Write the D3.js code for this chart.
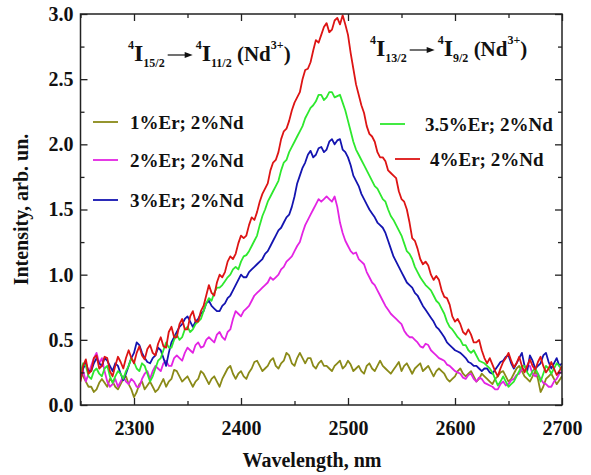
<!DOCTYPE html>
<html>
<head>
<meta charset="utf-8">
<script src="https://cdn.jsdelivr.net/npm/d3@7"></script>
<style>
  body { margin: 0; background: #fff; }
  svg { display: block; }
  text { font-family: "Liberation Serif", "Times New Roman", serif; font-weight: bold; fill: #111; }
</style>
</head>
<body>
<svg id="chart" width="591" height="475"></svg>
<script>
// Emission spectra of Er/Nd co-doped samples, sampled every 2.5 nm from 2250 nm
const wavelengthStart = 2250;
const wavelengthStep = 2.5;

const er1 = [
  0.26,0.22,0.18,0.14,0.14,0.10,0.12,0.17,0.20,0.17,
  0.14,0.20,0.18,0.14,0.12,0.16,0.20,0.22,0.16,0.12,
  0.06,0.10,0.16,0.18,0.12,0.15,0.18,0.14,0.10,0.12,
  0.16,0.20,0.14,0.18,0.20,0.27,0.26,0.22,0.18,0.20,
  0.22,0.18,0.14,0.18,0.20,0.26,0.24,0.20,0.16,0.20,
  0.22,0.18,0.14,0.20,0.24,0.28,0.30,0.24,0.20,0.24,
  0.26,0.22,0.20,0.25,0.28,0.33,0.34,0.30,0.26,0.28,
  0.30,0.34,0.36,0.30,0.28,0.32,0.34,0.40,0.38,0.32,
  0.30,0.36,0.40,0.36,0.32,0.36,0.36,0.30,0.28,0.32,
  0.34,0.30,0.30,0.28,0.26,0.30,0.32,0.34,0.28,0.30,
  0.34,0.31,0.26,0.28,0.30,0.26,0.24,0.30,0.32,0.28,
  0.26,0.30,0.34,0.30,0.28,0.26,0.24,0.27,0.30,0.33,
  0.26,0.30,0.32,0.28,0.24,0.28,0.30,0.32,0.26,0.28,
  0.30,0.26,0.22,0.26,0.28,0.26,0.24,0.20,0.18,0.20,
  0.22,0.26,0.28,0.24,0.22,0.24,0.26,0.22,0.18,0.20,
  0.24,0.22,0.20,0.18,0.16,0.20,0.22,0.25,0.26,0.22,
  0.18,0.20,0.24,0.28,0.30,0.26,0.22,0.20,0.18,0.22,
  0.26,0.20,0.10,0.14,0.20,0.22,0.24,0.20,0.16,0.19,
  0.22];

const er2 = [
  0.22,0.26,0.18,0.24,0.30,0.36,0.40,0.32,0.36,0.26,
  0.18,0.14,0.16,0.20,0.14,0.18,0.22,0.18,0.16,0.20,
  0.18,0.14,0.14,0.20,0.24,0.26,0.20,0.26,0.30,0.28,
  0.26,0.32,0.34,0.30,0.30,0.36,0.38,0.36,0.34,0.40,
  0.44,0.42,0.40,0.46,0.48,0.44,0.45,0.50,0.52,0.50,
  0.48,0.54,0.56,0.52,0.50,0.56,0.58,0.66,0.72,0.70,
  0.68,0.72,0.74,0.76,0.80,0.84,0.86,0.88,0.90,0.92,
  0.94,0.98,0.96,0.98,1.00,1.04,1.06,1.10,1.12,1.14,
  1.18,1.22,1.25,1.32,1.38,1.42,1.46,1.50,1.54,1.58,
  1.56,1.58,1.60,1.58,1.56,1.60,1.52,1.40,1.32,1.26,
  1.22,1.18,1.16,1.17,1.12,1.10,1.08,1.02,0.98,0.94,
  0.92,0.88,0.84,0.80,0.76,0.73,0.70,0.68,0.66,0.64,
  0.62,0.57,0.54,0.52,0.52,0.50,0.48,0.45,0.44,0.47,
  0.46,0.42,0.40,0.38,0.36,0.35,0.34,0.31,0.30,0.28,
  0.26,0.25,0.24,0.21,0.20,0.23,0.24,0.20,0.18,0.21,
  0.20,0.17,0.16,0.15,0.14,0.12,0.12,0.16,0.18,0.15,
  0.16,0.19,0.20,0.23,0.24,0.28,0.26,0.30,0.30,0.24,
  0.22,0.24,0.20,0.17,0.16,0.14,0.14,0.18,0.20,0.24,
  0.26];

const er3 = [
  0.20,0.28,0.32,0.26,0.26,0.32,0.36,0.32,0.30,0.36,
  0.34,0.30,0.26,0.32,0.30,0.24,0.19,0.24,0.30,0.36,
  0.40,0.48,0.46,0.40,0.36,0.33,0.32,0.36,0.38,0.44,
  0.42,0.36,0.30,0.40,0.48,0.52,0.56,0.60,0.62,0.66,
  0.68,0.64,0.60,0.64,0.66,0.70,0.72,0.78,0.80,0.76,
  0.74,0.72,0.72,0.76,0.78,0.82,0.84,0.88,0.92,0.96,
  1.00,0.98,0.98,1.02,1.04,1.06,1.08,1.10,1.12,1.16,
  1.18,1.22,1.26,1.30,1.34,1.36,1.40,1.44,1.46,1.52,
  1.60,1.70,1.76,1.82,1.86,1.92,1.95,1.90,1.92,1.97,
  1.98,1.94,1.96,2.02,2.04,2.00,2.03,2.04,1.96,1.94,
  1.90,1.84,1.76,1.72,1.68,1.62,1.58,1.54,1.50,1.47,
  1.44,1.40,1.38,1.36,1.32,1.26,1.20,1.14,1.10,1.06,
  1.02,0.98,0.94,0.92,0.90,0.86,0.84,0.80,0.76,0.73,
  0.70,0.67,0.64,0.60,0.58,0.55,0.52,0.48,0.46,0.44,
  0.42,0.41,0.40,0.38,0.36,0.33,0.32,0.30,0.30,0.28,
  0.26,0.28,0.28,0.25,0.24,0.27,0.30,0.33,0.34,0.37,
  0.38,0.32,0.28,0.32,0.36,0.40,0.30,0.26,0.38,0.34,
  0.28,0.30,0.32,0.38,0.40,0.33,0.28,0.32,0.36,0.30,
  0.32];

const er35 = [
  0.25,0.32,0.30,0.22,0.20,0.26,0.28,0.24,0.22,0.28,
  0.30,0.22,0.17,0.22,0.26,0.24,0.20,0.26,0.30,0.36,
  0.33,0.28,0.26,0.32,0.30,0.24,0.18,0.22,0.28,0.34,
  0.36,0.42,0.48,0.44,0.44,0.50,0.54,0.50,0.52,0.58,
  0.60,0.56,0.58,0.62,0.64,0.66,0.72,0.78,0.82,0.80,
  0.86,0.90,0.90,0.92,0.95,0.98,1.00,1.04,1.06,1.04,
  1.10,1.14,1.15,1.18,1.22,1.26,1.30,1.38,1.45,1.50,
  1.56,1.60,1.64,1.68,1.72,1.80,1.86,1.88,1.94,1.98,
  2.02,2.06,2.10,2.14,2.20,2.24,2.28,2.30,2.33,2.38,
  2.38,2.34,2.36,2.40,2.40,2.36,2.37,2.38,2.32,2.26,
  2.18,2.10,2.02,1.96,1.92,1.88,1.84,1.80,1.76,1.72,
  1.68,1.66,1.62,1.58,1.56,1.50,1.45,1.42,1.38,1.34,
  1.30,1.24,1.18,1.16,1.12,1.06,1.02,0.98,0.95,0.92,
  0.90,0.88,0.84,0.80,0.78,0.74,0.70,0.64,0.60,0.58,
  0.55,0.52,0.50,0.46,0.46,0.42,0.40,0.42,0.38,0.34,
  0.33,0.32,0.30,0.28,0.25,0.20,0.15,0.18,0.22,0.18,
  0.14,0.16,0.18,0.22,0.26,0.30,0.30,0.25,0.22,0.26,
  0.28,0.24,0.18,0.24,0.30,0.28,0.24,0.28,0.32,0.30,
  0.26];

const er4 = [
  0.18,0.30,0.35,0.24,0.26,0.36,0.38,0.28,0.30,0.37,
  0.36,0.26,0.22,0.30,0.37,0.33,0.28,0.36,0.42,0.36,
  0.32,0.40,0.45,0.38,0.35,0.43,0.46,0.40,0.38,0.47,
  0.52,0.45,0.44,0.56,0.60,0.52,0.52,0.62,0.66,0.58,
  0.58,0.68,0.72,0.64,0.64,0.72,0.76,0.84,0.92,0.86,
  0.84,0.94,1.00,0.98,1.02,1.10,1.14,1.12,1.16,1.24,
  1.30,1.28,1.30,1.38,1.44,1.42,1.48,1.56,1.62,1.66,
  1.70,1.80,1.86,1.88,1.94,2.04,2.10,2.12,2.18,2.26,
  2.32,2.36,2.40,2.50,2.57,2.58,2.63,2.72,2.80,2.78,
  2.84,2.90,2.93,2.86,2.88,2.95,2.97,2.92,2.99,2.92,
  2.84,2.70,2.58,2.46,2.38,2.30,2.24,2.14,2.08,2.06,
  2.02,1.94,1.90,1.90,1.87,1.80,1.78,1.76,1.74,1.64,
  1.58,1.56,1.50,1.40,1.28,1.26,1.20,1.12,1.08,1.10,
  1.07,1.00,0.96,0.99,0.96,0.88,0.83,0.82,0.77,0.68,
  0.64,0.66,0.62,0.56,0.54,0.58,0.54,0.48,0.48,0.50,
  0.42,0.36,0.32,0.36,0.31,0.26,0.22,0.28,0.33,0.36,
  0.40,0.34,0.29,0.32,0.37,0.30,0.25,0.30,0.35,0.30,
  0.27,0.33,0.37,0.30,0.25,0.28,0.33,0.28,0.23,0.26,
  0.30];

const seriesNames  = ["1%Er; 2%Nd", "2%Er; 2%Nd", "3%Er; 2%Nd", "3.5%Er; 2%Nd", "4%Er; 2%Nd"];
const seriesValues = [er1, er2, er3, er35, er4];
const seriesColors = ["#8a8a18", "#e324e3", "#1414b0", "#2ee82e", "#dd1414"];

const xMajorTicks = [2300, 2400, 2500, 2600, 2700];
const xMinorTicks = [2250, 2350, 2450, 2550, 2650];
const yMajorTicks = [0.0, 0.5, 1.0, 1.5, 2.0, 2.5, 3.0];
const yMinorTicks = [0.25, 0.75, 1.25, 1.75, 2.25, 2.75];

const svg = d3.select("#chart");
const plotLeft = 80.5, plotRight = 562, plotTop = 14, plotBottom = 405;

const x = d3.scaleLinear().domain([2250, 2700]).range([plotLeft, plotRight]);
const y = d3.scaleLinear().domain([0, 3]).range([plotBottom, plotTop]);

svg.append("clipPath").attr("id", "plotClip")
  .append("rect").attr("x", plotLeft).attr("y", plotTop)
  .attr("width", plotRight - plotLeft).attr("height", plotBottom - plotTop);

// spectra
const line = d3.line()
  .x((d, i) => x(wavelengthStart + i * wavelengthStep))
  .y(d => y(d));

const curves = svg.append("g").attr("clip-path", "url(#plotClip)");
seriesValues.forEach((vals, k) => {
  curves.append("path")
    .datum(vals)
    .attr("d", line)
    .attr("fill", "none")
    .attr("stroke", seriesColors[k])
    .attr("stroke-width", 1.8)
    .attr("stroke-linejoin", "round");
});

// axes with inward ticks
function styleAxis(g) {
  g.select(".domain").remove();
  g.selectAll(".tick line").attr("stroke", "#222").attr("stroke-width", 1.3);
  g.selectAll(".tick text").attr("font-size", 20).attr("fill", "#111")
    .attr("font-family", '"Liberation Serif", serif').attr("font-weight", "bold");
}

svg.append("g").attr("transform", `translate(0,${plotBottom})`)
  .call(d3.axisBottom(x).tickValues(xMajorTicks).tickFormat(d3.format("d")).tickSizeInner(-7).tickSizeOuter(0).tickPadding(16))
  .call(styleAxis);
svg.append("g").attr("transform", `translate(0,${plotBottom})`)
  .call(d3.axisBottom(x).tickValues(xMinorTicks).tickFormat("").tickSizeInner(-4).tickSizeOuter(0))
  .call(styleAxis);
svg.append("g").attr("transform", `translate(0,${plotTop})`)
  .call(d3.axisTop(x).tickValues(xMajorTicks).tickFormat("").tickSizeInner(-7).tickSizeOuter(0))
  .call(styleAxis);
svg.append("g").attr("transform", `translate(0,${plotTop})`)
  .call(d3.axisTop(x).tickValues(xMinorTicks).tickFormat("").tickSizeInner(-4).tickSizeOuter(0))
  .call(styleAxis);

svg.append("g").attr("transform", `translate(${plotLeft},0)`)
  .call(d3.axisLeft(y).tickValues(yMajorTicks).tickFormat(d3.format(".1f")).tickSizeInner(-7).tickSizeOuter(0).tickPadding(7))
  .call(styleAxis);
svg.append("g").attr("transform", `translate(${plotLeft},0)`)
  .call(d3.axisLeft(y).tickValues(yMinorTicks).tickFormat("").tickSizeInner(-4).tickSizeOuter(0))
  .call(styleAxis);
svg.append("g").attr("transform", `translate(${plotRight},0)`)
  .call(d3.axisRight(y).tickValues(yMajorTicks).tickFormat("").tickSizeInner(-7).tickSizeOuter(0))
  .call(styleAxis);
svg.append("g").attr("transform", `translate(${plotRight},0)`)
  .call(d3.axisRight(y).tickValues(yMinorTicks).tickFormat("").tickSizeInner(-4).tickSizeOuter(0))
  .call(styleAxis);

// frame
svg.append("rect")
  .attr("x", plotLeft).attr("y", plotTop)
  .attr("width", plotRight - plotLeft).attr("height", plotBottom - plotTop)
  .attr("fill", "none").attr("stroke", "#222").attr("stroke-width", 1.5);

// axis titles
svg.append("text")
  .attr("x", 312).attr("y", 467)
  .attr("text-anchor", "middle").attr("font-size", 20)
  .text("Wavelength, nm");
svg.append("text")
  .attr("transform", `translate(28,${(plotTop + plotBottom) / 2}) rotate(-90)`)
  .attr("text-anchor", "middle").attr("font-size", 20)
  .text("Intensity, arb. un.");

// legend
const legendItems = [
  { k: 0, lx: 93,  tx: 130, y: 122 },
  { k: 1, lx: 93,  tx: 130, y: 160 },
  { k: 2, lx: 93,  tx: 130, y: 200 },
  { k: 3, lx: 380, tx: 425, y: 124 },
  { k: 4, lx: 395, tx: 430, y: 159 }
];
legendItems.forEach(it => {
  svg.append("line")
    .attr("x1", it.lx).attr("x2", it.lx + 25)
    .attr("y1", it.y).attr("y2", it.y)
    .attr("stroke", seriesColors[it.k]).attr("stroke-width", 1.8);
  svg.append("text")
    .attr("x", it.tx).attr("y", it.y + 7)
    .attr("font-size", 19)
    .text(seriesNames[it.k]);
});

// transition labels: pieces of [text, font size, baseline shift]
function richText(x0, y0, parts) {
  const t = svg.append("text").attr("x", x0).attr("y", y0);
  let prev = 0;
  parts.forEach(([s, size, shift]) => {
    t.append("tspan").attr("font-size", size).attr("dy", shift - prev).text(s);
    prev = shift;
  });
  return t.node().getComputedTextLength();
}
function arrow(x1, x2, yy) {
  svg.append("line").attr("x1", x1).attr("x2", x2 - 6).attr("y1", yy).attr("y2", yy)
    .attr("stroke", "#111").attr("stroke-width", 1.2);
  svg.append("path")
    .attr("d", `M${x2},${yy} L${x2 - 8},${yy - 3} L${x2 - 8},${yy + 3} Z`)
    .attr("fill", "#111");
}
function transition(x0, y0, lowerA, lowerB) {
  const w1 = richText(x0, y0, [["4", 12, -12], ["I", 24, 0], [lowerA, 12, 6]]);
  const ax = x0 + w1 + 3;
  arrow(ax, ax + 25, y0 - 6);
  richText(ax + 28, y0, [["4", 12, -12], ["I", 24, 0], [lowerB, 12, 6], [" (Nd", 21, 0], ["3+", 12, -12], [")", 21, 0]]);
}
transition(128, 61, "15/2", "11/2");
transition(370, 56, "13/2", "9/2");
</script>
</body>
</html>
